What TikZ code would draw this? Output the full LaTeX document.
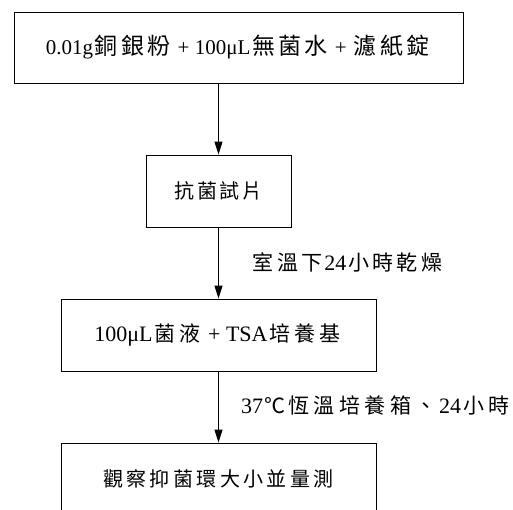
\documentclass[tikz,border=0pt]{standalone}
\usepackage{fontspec}
\setmainfont{Liberation Serif}
\newfontfamily\cjkf{Noto Sans CJK TC}
\usetikzlibrary{arrows.meta}
\newlength\cjpitch
\def\cjloop#1{\ifx\relax#1\else\makebox[\cjpitch]{#1}\expandafter\cjloop\fi}
\newcommand\cj[3]{{\setlength\cjpitch{#2pt}\fontsize{#1pt}{#1pt}\cjkf\cjloop#3\relax}}
\newcommand\lt[2]{{\fontsize{#1pt}{#1pt}\selectfont #2}}
\newcommand\pls[1]{{\fontsize{#1pt}{#1pt}\selectfont\hspace{5.5pt}+\hspace{5.5pt}}}
\begin{document}
\begin{tikzpicture}[x=1pt,y=-1pt,
  box/.style={draw=black, line width=0.9pt, inner sep=0pt, minimum height=72pt},
  arr/.style={draw=black, line width=0.9pt, -{Triangle[length=13pt,width=8pt]}},
  lbl/.style={inner sep=0pt, anchor=west}]
\useasboundingbox (0,0) rectangle (513,509);
\clip (0,0) rectangle (513,509);
\fill[white] (0,0) rectangle (513,509);
\node[box, minimum width=449pt, minimum height=71pt] (b1) at (238.5,47.5)
  {\raisebox{-4pt}{\lt{21}{0.01g}\cj{23}{26.3}{銅銀粉}\pls{21}\lt{21}{100μL}\cj{23}{26.3}{無菌水}\pls{21}\cj{23}{26.3}{濾紙錠}}};
\node[box, minimum width=145pt] (b2) at (218.5,191)
  {\cj{20}{22.5}{抗菌試片}};
\node[box, minimum width=315pt] (b3) at (218.5,335)
  {\lt{22}{100μL}\cj{21}{25}{菌液}\pls{22}\lt{22}{TSA}\cj{21}{25}{培養基}};
\node[box, minimum width=315pt] (b4) at (218.5,479)
  {\cj{20}{23.4}{觀察抑菌環大小並量測}};
\draw[arr] (b1.south -| b2.north) -- (b2.north);
\draw[arr] (b2.south) -- (b3.north);
\draw[arr] (b3.south) -- (b4.north);
\node[lbl] (l1) at (251,262) {\cj{21}{24.4}{室溫下}\lt{22}{24}\cj{21}{24.4}{小時乾燥}};
\node[lbl] (l2) at (241,405) {\lt{22}{37}\cj{21}{23}{℃}\cj{21}{25.5}{恆溫培養箱、}\lt{22}{24}\cj{21}{25.5}{小時}};
\end{tikzpicture}
\end{document}
